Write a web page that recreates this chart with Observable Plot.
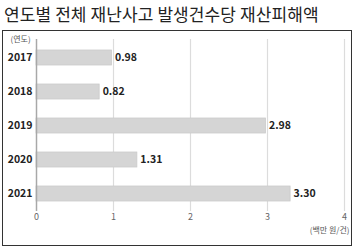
<!DOCTYPE html>
<html><head><meta charset="utf-8">
<script src="https://cdn.jsdelivr.net/npm/d3@7"></script>
<script src="https://cdn.jsdelivr.net/npm/@observablehq/plot@0.6"></script>
<style>
body{margin:0;background:#fff;width:356px;height:248px;overflow:hidden;position:relative;font-family:"Noto Sans CJK KR","Noto Sans",sans-serif;}
#title{position:absolute;left:4px;top:1px;font-size:17px;color:#222;white-space:nowrap;letter-spacing:0.1px;}
#box{position:absolute;left:2px;top:30px;width:348px;height:214px;border:1px solid #333;}
</style></head><body>
<div id="title">연도별 전체 재난사고 발생건수당 재산피해액</div>
<div id="box"></div>
<script>
const years = ["2017","2018","2019","2020","2021"];
const values = [0.98, 0.82, 2.98, 1.31, 3.30];
const xTicks = [0,1,2,3,4];
const yUnit = "(연도)";
const xUnit = "(백만 원/건)";
const data = years.map((y,i)=>({year:y, value:values[i]}));
const chart = Plot.plot({
  width:348, height:214,
  marginLeft:33, marginRight:7, marginTop:8, marginBottom:34,
  style:{fontFamily:"'Noto Sans CJK KR','Noto Sans',sans-serif", background:"transparent"},
  x:{domain:[0,4], ticks:xTicks, label:null},
  y:{domain:years, paddingInner:0.56, paddingOuter:0.28, label:null},
  marks:[
    Plot.gridX(xTicks.filter(d=>d>0), {stroke:"#dcdcdc", strokeOpacity:1, strokeWidth:1.2}),
    Plot.barX(data, {y:"year", x:"value", fill:"#d5d5d5", stroke:"#cacaca", strokeWidth:0.8}),
    Plot.ruleX([0], {stroke:"#a8a8a8", strokeWidth:1.5}),
    Plot.text(data, {y:"year", x:"value", text:d=>d.value.toFixed(2), textAnchor:"start", dx:3, fontWeight:"bold", fontSize:10.5, fill:"#222"}),
    Plot.axisX({ticks:xTicks, tickFormat:d=>String(d), tickSize:0, tickPadding:2, fontSize:9, fill:"#666", label:null}),
    Plot.axisY({tickSize:0, tickPadding:4, fontSize:10.5, fontWeight:"bold", fill:"#222", label:null}),
    Plot.text([yUnit], {frameAnchor:"top-left", dx:-26, dy:-3, fontSize:8, fill:"#555", textAnchor:"start"}),
    Plot.text([xUnit], {frameAnchor:"bottom-right", dx:5, dy:21, fontSize:8, fill:"#555", textAnchor:"end"})
  ]
});
document.getElementById("box").appendChild(chart);
</script>
</body></html>
